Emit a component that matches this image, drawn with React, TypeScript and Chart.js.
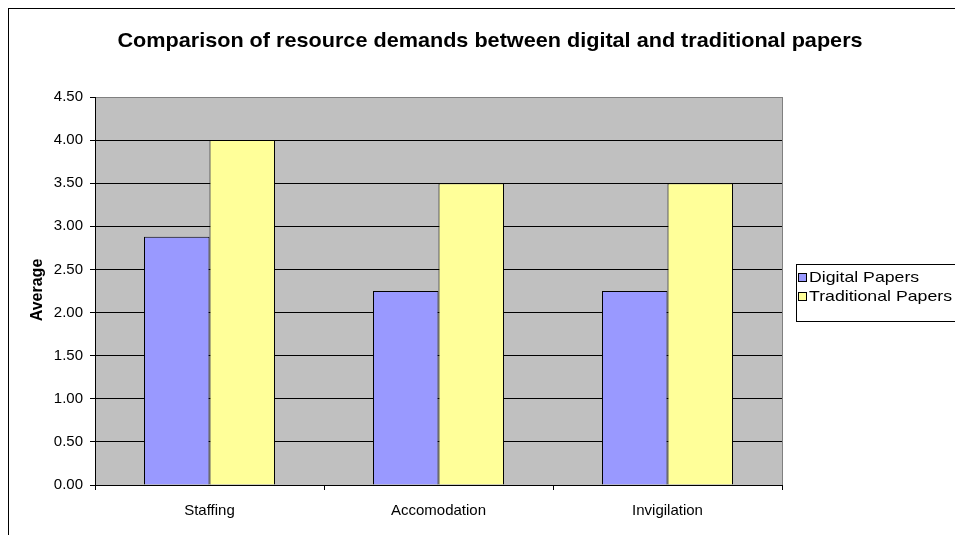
import React, { useEffect, useRef } from "react";
import { Chart, registerables } from "chart.js";

Chart.register(...registerables);

const TITLE = "Comparison of resource demands between digital and traditional papers";
const Y_TITLE = "Average";
const categories = ["Staffing", "Accomodation", "Invigilation"];
const digitalPapers = [2.88, 2.25, 2.25];
const traditionalPapers = [4.0, 3.5, 3.5];
const seriesNames = ["Digital Papers", "Traditional Papers"];
const seriesColors = ["#9999FF", "#FFFF99"];
const Y_MIN = 0;
const Y_MAX = 4.5;
const Y_STEP = 0.5;

const FONT = "'Liberation Sans', Arial, sans-serif";

function stretchedText(ctx: any, text: string, x: number, y: number, sx: number) {
  ctx.save();
  ctx.translate(x, y);
  ctx.scale(sx, 1);
  ctx.fillText(text, 0, 0);
  ctx.restore();
}

const decorPlugin = {
  id: "decor",
  beforeDraw(chart: any) {
    const { ctx, chartArea } = chart;
    ctx.save();
    ctx.fillStyle = "#ffffff";
    ctx.fillRect(0, 0, chart.width, chart.height);
    ctx.strokeStyle = "#000000";
    ctx.lineWidth = 1;
    ctx.strokeRect(8.5, 8.5, 3000, 3000);
    ctx.fillStyle = "#C0C0C0";
    ctx.fillRect(chartArea.left, chartArea.top, chartArea.right - chartArea.left, chartArea.bottom - chartArea.top);
    ctx.restore();
  },
  afterDraw(chart: any) {
    const { ctx, chartArea } = chart;
    ctx.save();
    ctx.strokeStyle = "#808080";
    ctx.lineWidth = 1;
    ctx.beginPath();
    ctx.moveTo(Math.round(chartArea.right) + 0.5, chartArea.top);
    ctx.lineTo(Math.round(chartArea.right) + 0.5, chartArea.bottom);
    ctx.stroke();
    // title
    ctx.fillStyle = "#000000";
    ctx.font = "bold 21px " + FONT;
    ctx.textAlign = "center";
    ctx.textBaseline = "middle";
    stretchedText(ctx, TITLE, 490, 41, 1.03);
    // y title
    ctx.save();
    ctx.translate(38, 290);
    ctx.rotate(-Math.PI / 2);
    ctx.font = "bold 16px " + FONT;
    ctx.fillText(Y_TITLE, 0, 0);
    ctx.restore();
    // legend
    const lx = 796.5, ly = 264.5;
    ctx.strokeStyle = "#000000";
    ctx.strokeRect(lx, ly, 400, 57);
    ctx.font = "15px " + FONT;
    ctx.textAlign = "left";
    chart.data.datasets.forEach((ds: any, i: number) => {
      const cy = 277 + i * 19;
      ctx.fillStyle = ds.backgroundColor;
      ctx.fillRect(798, cy - 4, 8, 8);
      ctx.strokeStyle = "#000000";
      ctx.strokeRect(798.5, cy - 3.5, 8, 8);
      ctx.fillStyle = "#000000";
      stretchedText(ctx, ds.label, 809, cy + 1, 1.18);
    });
    ctx.restore();
  },
};

export default function App() {
  const ref = useRef<HTMLCanvasElement>(null);
  useEffect(() => {
    if (!ref.current) return;
    const chart = new Chart(ref.current, {
      type: "bar",
      data: {
        labels: categories,
        datasets: [
          {
            label: seriesNames[0],
            data: digitalPapers,
            backgroundColor: seriesColors[0],
            borderColor: "#000000",
            borderWidth: 1,
            categoryPercentage: 0.572,
            barPercentage: 1,
          },
          {
            label: seriesNames[1],
            data: traditionalPapers,
            backgroundColor: seriesColors[1],
            borderColor: "#000000",
            borderWidth: 1,
            categoryPercentage: 0.572,
            barPercentage: 1,
          },
        ],
      },
      options: {
        responsive: false,
        animation: false,
        layout: { padding: { left: 0, top: 97, right: 173, bottom: 0 } },
        plugins: {
          legend: { display: false },
          title: { display: false },
          tooltip: { enabled: false },
        },
        scales: {
          x: {
            grid: {
              display: true,
              drawOnChartArea: false,
              drawTicks: true,
              tickLength: 5,
              color: "#000000",
              tickColor: "#000000",
            },
            border: { display: true, color: "#000000", width: 1 },
            ticks: {
              color: "#000000",
              font: { family: FONT, size: 15 },
              padding: 12,
            },
            afterFit(scale: any) {
              scale.height = 50;
            },
          },
          y: {
            min: Y_MIN,
            max: Y_MAX,
            grid: {
              color: (c: any) => (c.tick && c.tick.value === Y_MAX ? "#808080" : "#000000"),
              tickColor: "#000000",
              tickLength: 5,
              drawTicks: true,
            },
            border: { display: true, color: "#000000", width: 1 },
            ticks: {
              stepSize: Y_STEP,
              color: "#000000",
              font: { family: FONT, size: 15 },
              padding: 7,
              callback: (v: any) => Number(v).toFixed(2),
            },
            afterFit(scale: any) {
              scale.width = 95;
            },
          },
        },
      },
      plugins: [decorPlugin],
    });
    return () => chart.destroy();
  }, []);
  return (
    <div style={{ position: "fixed", left: 0, top: 0, width: 955, height: 535 }}>
      <canvas ref={ref} width={955} height={535} style={{ width: 955, height: 535, display: "block" }} />
    </div>
  );
}
